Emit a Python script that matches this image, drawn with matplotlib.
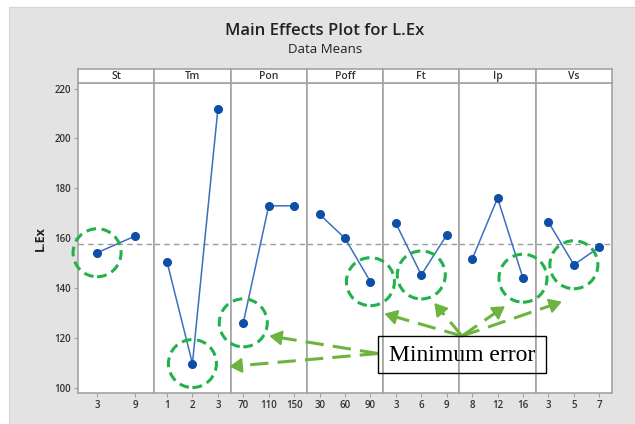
import matplotlib
matplotlib.use("Agg")
import matplotlib.pyplot as plt
import numpy as np
from matplotlib.lines import Line2D
from matplotlib.patches import Circle, FancyArrowPatch, Rectangle
from matplotlib.transforms import IdentityTransform

plt.rcParams["font.family"] = ["Open Sans", "DejaVu Sans"]

# data: factor means
factors = ["St", "Tm", "Pon", "Poff", "Ft", "Ip", "Vs"]
levels = [
    ["3", "9"],
    ["1", "2", "3"],
    ["70", "110", "150"],
    ["30", "60", "90"],
    ["3", "6", "9"],
    ["8", "12", "16"],
    ["3", "5", "7"],
]
means = [
    [154.2, 160.9],
    [150.6, 109.8, 211.7],
    [126.1, 173.0, 173.0],
    [169.6, 160.0, 142.6],
    [166.0, 145.3, 161.3],
    [151.6, 176.1, 144.0],
    [166.5, 149.4, 156.4],
]
overall_mean = 157.7
y_ticks = [100, 120, 140, 160, 180, 200, 220]

# arrow heads: pixel offset from each minimum point (None = no arrow)
arrow_offsets = [None, (37, -3), (26, -13), (14, -32), (13, -28), (-18, -28), (-12, -37)]
arrow_from_left = [False, True, True, False, False, False, False]

W, H = 635, 424
fig = plt.figure(figsize=(W / 100, H / 100), dpi=100, facecolor="white")

# gray minitab background
fig.add_artist(Rectangle((9 / W, 0), (W - 9) / W + 0.01, (H - 7) / H, transform=fig.transFigure,
                         facecolor="#e3e3e3", edgecolor="#d4d4d4", lw=0.8, zorder=0))

left_px, right_px = 78, 612
bottom_px, top_px = 31, 340.7
strip_h = 14.8
pw = (right_px - left_px) / len(factors)
grey = "#a3a3a3"

axes = []
for i, (name, levs, vals) in enumerate(zip(factors, levels, means)):
    ax = fig.add_axes([(left_px + i * pw) / W, bottom_px / H, pw / W, (top_px - bottom_px) / H])
    ax.set_facecolor("white")
    x = np.arange(1, len(levs) + 1)
    ax.axhline(overall_mean, color="#9c9c9c", lw=1, ls=(0, (4, 3)), zorder=1)
    ax.plot(x, vals, color="#3c6fbf", lw=1.1, zorder=2)
    ax.plot(x, vals, "o", color="#0d4ea6", markersize=5.5, zorder=3)
    ax.set_xlim(0.5, len(levs) + 0.5)
    ax.set_ylim(98, 222.1)
    ax.set_xticks(x)
    ax.set_xticklabels(levs, fontweight="semibold")
    ax.set_yticks(y_ticks)
    ax.set_yticklabels([str(v) for v in y_ticks], fontweight="semibold")
    ax.tick_params(axis="both", labelsize=7, colors="#333333", length=3, width=0.8, pad=2)
    ax.tick_params(axis="both", color=grey)
    if i > 0:
        ax.tick_params(axis="y", left=False, labelleft=False)
    for sp in ax.spines.values():
        sp.set_color(grey)
        sp.set_linewidth(1.2)
    axes.append(ax)

    # header strip
    sax = fig.add_axes([(left_px + i * pw) / W, top_px / H, pw / W, strip_h / H])
    sax.set_facecolor("white")
    sax.set_xticks([])
    sax.set_yticks([])
    for sp in sax.spines.values():
        sp.set_color(grey)
        sp.set_linewidth(1.2)
    sax.text(0.5, 0.45, name, transform=sax.transAxes, ha="center", va="center",
             fontsize=7.5, fontweight="semibold", color="#333333")

fig.text(40 / W, (bottom_px + top_px) / 2 / H, "L.Ex", rotation=90, ha="center", va="center",
         fontsize=9, fontweight="bold", color="#222222")
fig.text(325 / W, 1 - 31 / H, "Main Effects Plot for L.Ex", ha="center", va="center",
         fontsize=12, fontweight="semibold", color="#222222")
fig.text(325 / W, 1 - 49.5 / H, "Data Means", ha="center", va="center",
         fontsize=9.5, color="#222222")

# "Minimum error" box
box_l, box_b, box_w, box_h = 378, 51, 168, 37
fig.add_artist(Rectangle((box_l / W, box_b / H), box_w / W, box_h / H, transform=fig.transFigure,
                         fill=False, edgecolor="black", lw=1, zorder=10))
fig.text((box_l + box_w / 2) / W, (box_b + box_h / 2 - 1) / H, "Minimum error", ha="center",
         va="center", fontsize=17, family=["Liberation Serif", "DejaVu Serif"], zorder=10)

src_top = np.array([box_l + box_w / 2, box_b + box_h])
src_left = np.array([box_l, box_b + box_h / 2 + 1])

circle_c = "#22b24c"
arrow_c = "#6db33f"
for i, (vals, ax) in enumerate(zip(means, axes)):
    k = int(np.argmin(vals))
    px = ax.transData.transform((k + 1, vals[k]))
    fig.add_artist(Circle(px, radius=24, transform=IdentityTransform(), fill=False,
                          edgecolor=circle_c, lw=2.2, ls=(0, (3.2, 1.8)), zorder=9))
    off = arrow_offsets[i]
    if off is None:
        continue
    head = px + np.array(off)
    src = src_left if arrow_from_left[i] else src_top
    d = (head - src) / np.linalg.norm(head - src)
    base = head - d * 9
    fig.add_artist(Line2D([src[0], base[0]], [src[1], base[1]], transform=IdentityTransform(),
                          color=arrow_c, lw=2.2, ls=(0, (6, 3)), zorder=9))
    fig.add_artist(FancyArrowPatch(tuple(head - d * 12), tuple(head), transform=IdentityTransform(),
                                   arrowstyle="-|>,head_length=0.75,head_width=0.45",
                                   mutation_scale=10, color=arrow_c, lw=1.5,
                                   shrinkA=0, shrinkB=0, zorder=9))

fig.savefig("out.png", dpi=100, facecolor="white")
